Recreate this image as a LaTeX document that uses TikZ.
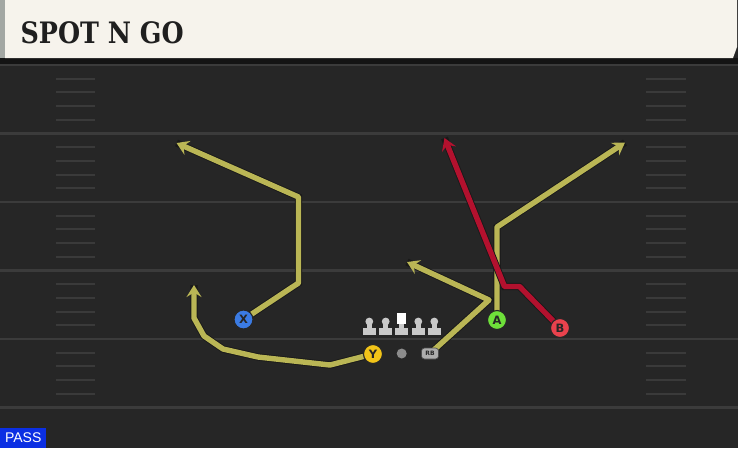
\documentclass[tikz,border=0pt]{standalone}
\usepackage{fontspec}
\setmainfont{DejaVu Sans}
\newfontfamily\titlefont{DejaVu Serif}
\newfontfamily\passfont{Liberation Sans}
\usetikzlibrary{arrows.meta}
\definecolor{field}{HTML}{262626}
\definecolor{yardline}{HTML}{3B3B3B}
\definecolor{hashc}{HTML}{3A3A3A}
\definecolor{cream}{HTML}{F6F3EC}
\definecolor{stripc}{HTML}{A3A7A3}
\definecolor{routeY}{HTML}{BAB655}
\definecolor{routeR}{HTML}{B3112E}
\definecolor{pblue}{HTML}{3B7BE3}
\definecolor{pyellow}{HTML}{F2C418}
\definecolor{pgreen}{HTML}{6EE03A}
\definecolor{pred}{HTML}{E9424D}
\definecolor{passblue}{HTML}{0B2FE3}
\definecolor{olc}{HTML}{C9C9C9}
\pgfdeclarelayer{fieldlayer}
\pgfdeclarelayer{routelayer}
\pgfsetlayers{fieldlayer,routelayer,main}
\tikzset{
  player/.style={circle, minimum size=19pt, inner sep=0pt, draw=black!85, line width=1.1pt,
    font=\fontsize{11.5}{11.5}\selectfont\bfseries, text=black!85},
  route/.style={line width=5.4pt, line join=round, draw=#1,
    -{Stealth[length=12pt,width=15pt,inset=4.5pt]},
    preaction={draw=black!90, line width=7.2pt, -{}}},
  hashmark/.style={draw=hashc, line width=2pt},
  yard/.style={draw=yardline, line width=2.2pt},
  lineman/.pic={
    \fill[olc] (-6.5,-7) rectangle (6.5,0);
    \fill[olc] (-2.6,-13.5) rectangle (2.6,-6);
    \fill[olc] (0,-13.5) circle (3.9);
  },
  centerman/.pic={
    \fill[olc] (-6.5,-7) rectangle (6.5,0);
    \fill[olc] (-2.6,-12) rectangle (2.6,-6);
    \fill[white] (-4.4,-21.8) rectangle (4.4,-11.5);
  }
}
\begin{document}
\begin{tikzpicture}[x=1pt,y=-1pt]
\useasboundingbox (0,0) rectangle (738,448);
\begin{pgfonlayer}{fieldlayer}
  \fill[field] (0,0) rectangle (738,448);
  \fill[black!92] (0,58) rectangle (738,63.5);
  % yard lines
  \foreach \y in {65,133.5,202,270.5,339,407.5} {
    \draw[yard] (0,\y) -- (738,\y);
  }
  % hash marks
  \foreach \y in {65,133.5,202,270.5,339} {
    \foreach \k in {1,2,3,4} {
      \draw[hashmark] (56,\y+13.7*\k) -- (95,\y+13.7*\k);
      \draw[hashmark] (646,\y+13.7*\k) -- (686,\y+13.7*\k);
    }
  }
  % title bar
  \fill[stripc] (0,0) rectangle (5,58);
  \fill[cream] (5,0) -- (737,0) -- (737,47) -- (733,58) -- (5,58) -- cycle;
\end{pgfonlayer}

\node[anchor=west, inner sep=0pt, xscale=0.86, font=\titlefont\bfseries\fontsize{29.5}{29.5}\selectfont, text=black!88] (title) at (20.5,33) {SPOT N GO};

% players
\node[player, fill=pblue] (X) at (243.5,319.5) {X};
\node[player, fill=pyellow] (Y) at (373,354) {Y};
\node[player, fill=pgreen] (A) at (497,320) {A};
\node[player, fill=pred] (B) at (560,328) {B};
\node[circle, fill=black!45, minimum size=10pt, inner sep=0pt] (ball) at (401.7,353.5) {};
\node[rounded corners=3pt, fill=black!32, draw=black!70, line width=0.6pt, minimum width=17pt, minimum height=11pt, inner sep=0pt,
  font=\fontsize{6}{6}\selectfont\bfseries, text=black!85] (RB) at (430,353.5) {RB};

% line
\pic at (369.3,335) {lineman};
\pic at (385.7,335) {lineman};
\pic at (401.7,335) {centerman};
\pic at (418.3,335) {lineman};
\pic at (434.3,335) {lineman};

% route end points
\coordinate (Xend) at (176.5,143);
\coordinate (Yend) at (194,285);
\coordinate (Aend) at (625,142.5);
\coordinate (Bend) at (444.5,138);
\coordinate (RBend) at (407,262);

\begin{pgfonlayer}{routelayer}
  \draw[route=routeY] (X.center) -- (298.5,283) -- (298.5,197) -- (Xend);
  \draw[route=routeY] (Y.center) -- (330,365) -- (258,357) -- (223,349) -- (204,336) -- (194,318) -- (Yend);
  \draw[route=routeY] (RB.center) -- (489,300) -- (RBend);
  \draw[route=routeY] (A.center) -- (497,227) -- (Aend);
  \draw[route=routeR] (B.center) -- (519.5,286.5) -- (504.5,286.5) -- (Bend);
\end{pgfonlayer}

% PASS label
\node[anchor=south west, fill=passblue, minimum width=46pt, minimum height=20pt, inner sep=0pt,
  font=\passfont\fontsize{14}{14}\selectfont, text=white] (pass) at (0,448) {PASS};
\end{tikzpicture}
\end{document}
